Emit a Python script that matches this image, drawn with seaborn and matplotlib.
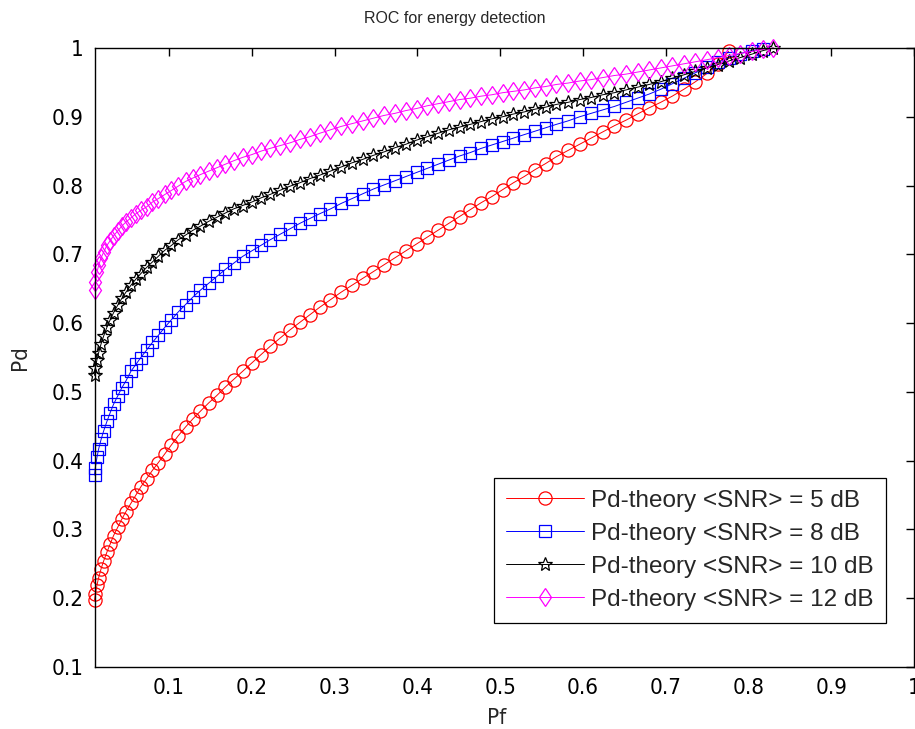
import matplotlib
matplotlib.use("Agg")
import matplotlib.pyplot as plt
from matplotlib import font_manager
import seaborn as sns

# Pf (false alarm) grid shared by all curves
pf = [0.010, 0.011, 0.013, 0.015, 0.018, 0.021, 0.025, 0.029, 0.033, 0.038,
      0.043, 0.048, 0.054, 0.060, 0.066, 0.073, 0.080, 0.087, 0.095, 0.103,
      0.111, 0.120, 0.129, 0.138, 0.148, 0.158, 0.168, 0.178, 0.189, 0.200,
      0.211, 0.222, 0.234, 0.246, 0.258, 0.270, 0.282, 0.295, 0.308, 0.321,
      0.334, 0.347, 0.360, 0.373, 0.386, 0.399, 0.412, 0.425, 0.438, 0.451,
      0.464, 0.477, 0.490, 0.503, 0.516, 0.529, 0.542, 0.555, 0.568, 0.582,
      0.596, 0.610, 0.624, 0.638, 0.652, 0.666, 0.680, 0.694, 0.708, 0.722,
      0.736, 0.750, 0.763, 0.776, 0.790, 0.804, 0.817, 0.830]

pd_5db = [0.197, 0.206, 0.219, 0.230, 0.243, 0.254, 0.267, 0.279, 0.291, 0.303,
          0.315, 0.326, 0.338, 0.350, 0.362, 0.374, 0.386, 0.397, 0.410, 0.423,
          0.436, 0.449, 0.461, 0.472, 0.484, 0.495, 0.507, 0.518, 0.530, 0.542,
          0.554, 0.566, 0.578, 0.590, 0.601, 0.612, 0.623, 0.634, 0.645, 0.655,
          0.665, 0.675, 0.685, 0.695, 0.705, 0.715, 0.725, 0.735, 0.745, 0.755,
          0.765, 0.775, 0.784, 0.794, 0.804, 0.813, 0.823, 0.832, 0.842, 0.851,
          0.860, 0.869, 0.878, 0.887, 0.895, 0.904, 0.913, 0.921, 0.930, 0.940,
          0.951, 0.963, 0.977, 0.995]

pd_8db = [0.379, 0.390, 0.405, 0.417, 0.431, 0.443, 0.457, 0.470, 0.482, 0.494,
          0.506, 0.516, 0.530, 0.540, 0.550, 0.561, 0.572, 0.582, 0.594, 0.605,
          0.616, 0.627, 0.638, 0.648, 0.658, 0.668, 0.678, 0.687, 0.697, 0.705,
          0.713, 0.721, 0.729, 0.737, 0.745, 0.752, 0.759, 0.766, 0.774, 0.781,
          0.788, 0.795, 0.801, 0.807, 0.813, 0.819, 0.825, 0.831, 0.837, 0.843,
          0.848, 0.854, 0.859, 0.864, 0.869, 0.874, 0.879, 0.884, 0.889, 0.894,
          0.900, 0.905, 0.910, 0.915, 0.921, 0.927, 0.933, 0.940, 0.948, 0.956,
          0.964, 0.972, 0.979, 0.986, 0.992, 0.996, 0.999]

pd_10db = [0.524, 0.535, 0.547, 0.557, 0.570, 0.581, 0.594, 0.605, 0.615, 0.626,
           0.636, 0.645, 0.655, 0.664, 0.672, 0.681, 0.689, 0.697, 0.706, 0.713,
           0.721, 0.728, 0.735, 0.741, 0.748, 0.754, 0.760, 0.766, 0.771, 0.776,
           0.782, 0.787, 0.793, 0.799, 0.804, 0.810, 0.815, 0.821, 0.827, 0.833,
           0.838, 0.844, 0.849, 0.855, 0.860, 0.866, 0.871, 0.876, 0.881, 0.885,
           0.889, 0.893, 0.897, 0.900, 0.904, 0.907, 0.911, 0.914, 0.918, 0.921,
           0.925, 0.928, 0.932, 0.935, 0.939, 0.943, 0.947, 0.951, 0.956, 0.961,
           0.966, 0.971, 0.976, 0.981, 0.986, 0.991, 0.996, 1.000]

pd_12db = [0.648, 0.660, 0.674, 0.684, 0.695, 0.703, 0.713, 0.720, 0.727, 0.734,
           0.741, 0.747, 0.753, 0.759, 0.764, 0.769, 0.776, 0.781, 0.787, 0.793,
           0.799, 0.806, 0.811, 0.816, 0.821, 0.826, 0.831, 0.836, 0.841, 0.845,
           0.850, 0.854, 0.858, 0.862, 0.867, 0.871, 0.876, 0.881, 0.886, 0.890,
           0.894, 0.898, 0.902, 0.905, 0.909, 0.912, 0.916, 0.919, 0.922, 0.925,
           0.927, 0.930, 0.932, 0.935, 0.937, 0.939, 0.942, 0.944, 0.947, 0.949,
           0.952, 0.954, 0.957, 0.960, 0.962, 0.965, 0.968, 0.971, 0.974, 0.977,
           0.980, 0.983, 0.986, 0.989, 0.992, 0.995, 0.998, 1.000]

labels = ["Pd-theory <SNR> = 5 dB", "Pd-theory <SNR> = 8 dB",
          "Pd-theory <SNR> = 10 dB", "Pd-theory <SNR> = 12 dB"]
ticks = [0.1, 0.2, 0.3, 0.4, 0.5, 0.6, 0.7, 0.8, 0.9, 1.0]
tick_labels = ["0.1", "0.2", "0.3", "0.4", "0.5", "0.6", "0.7", "0.8", "0.9", "1"]

sns.set_style("white")
installed = {f.name for f in font_manager.fontManager.ttflist}
if "Liberation Sans Narrow" in installed:
    narrow = dict(family="Liberation Sans Narrow")
else:
    narrow = dict(family="DejaVu Sans", stretch="condensed")
plt.rcParams["font.family"] = ["Liberation Sans", "DejaVu Sans"]

fig = plt.figure(figsize=(9.15, 7.29), dpi=100)
ax = fig.add_axes([94.5 / 915, 62 / 729, 819.5 / 915, 619 / 729])

styles = [("#ff0000", "o", 9.5), ("#0000ff", "s", 9), ("#000000", "*", 10), ("#ff00ff", "d", 9.5)]
series = [pd_5db, pd_8db, pd_10db, pd_12db]
for pdv, lab, (col, mk, ms) in zip(series, labels, styles):
    sns.lineplot(x=pf[:len(pdv)], y=pdv, ax=ax, color=col, marker=mk, markersize=ms,
                 markerfacecolor="none", markeredgecolor=col, markeredgewidth=0.9,
                 linewidth=0.7, label=lab, errorbar=None, sort=False, clip_on=False)

ax.set_xlim(0.01, 1)
ax.set_ylim(0.1, 1)
ax.set_xticks(ticks)
ax.set_xticklabels(tick_labels)
ax.set_yticks(ticks)
ax.set_yticklabels(tick_labels)
ax.tick_params(direction="in", length=6, width=1, top=True, right=True,
               labelsize=16, pad=8, colors="black")
for lbl in ax.get_xticklabels() + ax.get_yticklabels():
    lbl.set(**narrow)
for sp in ax.spines.values():
    sp.set_color("black")
    sp.set_linewidth(1)

ax.set_xlabel("Pf", fontsize=16, **narrow)
ax.set_ylabel("Pd", fontsize=16, **narrow)
ax.xaxis.set_label_coords(0.491, -0.066)
ax.yaxis.set_label_coords(-0.079, 0.5)

fig.text(455 / 915, 1 - 18 / 729, "ROC for energy detection", ha="center", va="center",
         fontsize=11.5)

leg = ax.legend(loc="lower right", bbox_to_anchor=(886 / 915, 106 / 729),
                bbox_transform=fig.transFigure, borderaxespad=0, fontsize=17.5,
                handlelength=3.2, handletextpad=0.3, labelspacing=0.45, borderpad=0.5,
                fancybox=False, framealpha=1, edgecolor="black")
leg.get_frame().set_linewidth(0.9)

fig.savefig("out.png", dpi=100)
